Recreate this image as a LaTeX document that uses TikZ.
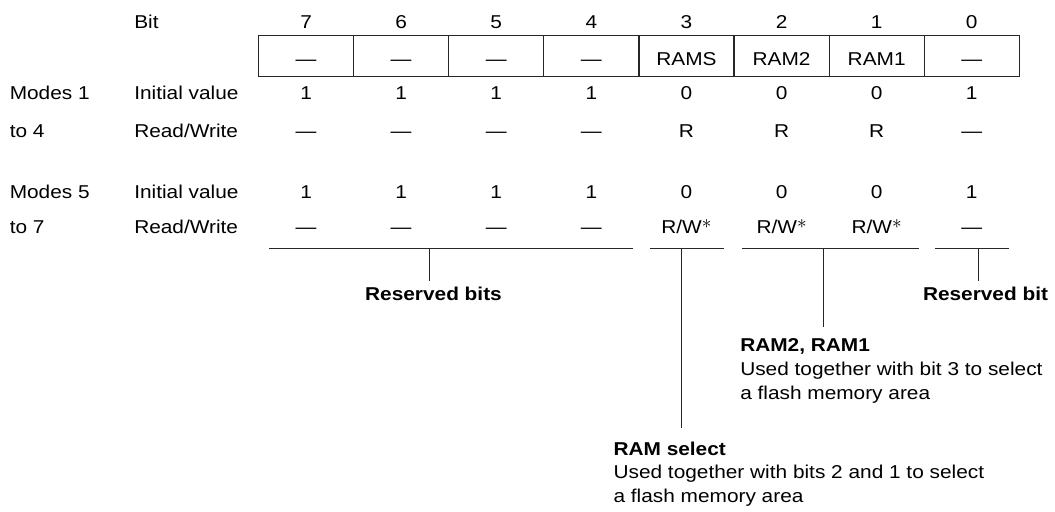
\documentclass[tikz,border=0pt]{standalone}
\usepackage{fontspec}
\setmainfont[FakeStretch=1.12]{Liberation Sans}
\definecolor{regline}{HTML}{262626}
\newcommand{\regstar}{\raisebox{0.28em}{$\ast$}}

\begin{document}
\begin{tikzpicture}[
  x=0.75pt,
  y=-0.75pt,
  every node/.style={inner sep=0pt,text=black,font=\fontsize{13.95pt}{17.6pt}\selectfont},
  cell/.style={draw=regline,line width=0.9pt,minimum width=71.33pt,minimum height=30.75pt,text height=13.5pt,text depth=0pt},
  bitval/.style={anchor=base},
  rowlabel/.style={anchor=base west},
  bracket/.style={draw=regline,line width=0.8pt},
  desctitle/.style={anchor=base west,font=\fontsize{13.95pt}{17.6pt}\selectfont\bfseries},
  desctext/.style={anchor=base west}
]
  \useasboundingbox (0,0) rectangle (1055,511);

  % row labels
  \node[rowlabel] (bitlbl) at (134,28.5) {Bit};
  \node[rowlabel] (modesa) at (9.5,99.5) {Modes 1};
  \node[rowlabel] (modesat) at (9.5,137) {to 4};
  \node[rowlabel] (ivlbla) at (134,99.5) {Initial value};
  \node[rowlabel] (rwlbla) at (134,137) {Read/Write};
  \node[rowlabel] (modesb) at (9.5,198) {Modes 5};
  \node[rowlabel] (modesbt) at (9.5,233.5) {to 7};
  \node[rowlabel] (ivlblb) at (134,198) {Initial value};
  \node[rowlabel] (rwlblb) at (134,233.5) {Read/Write};

  % bit numbers
  \node[bitval] (bit7) at (306.05,28.5) {7};
  \node[bitval] (bit6) at (401.15,28.5) {6};
  \node[bitval] (bit5) at (496.25,28.5) {5};
  \node[bitval] (bit4) at (591.35,28.5) {4};
  \node[bitval] (bit3) at (686.45,28.5) {3};
  \node[bitval] (bit2) at (781.55,28.5) {2};
  \node[bitval] (bit1) at (876.65,28.5) {1};
  \node[bitval] (bit0) at (971.75,28.5) {0};

  % register cells
  \node[cell] (cell7) at (306.05,56) {—};
  \node[cell] (cell6) at (401.15,56) {—};
  \node[cell] (cell5) at (496.25,56) {—};
  \node[cell] (cell4) at (591.35,56) {—};
  \node[cell] (cell3) at (686.45,56) {RAMS};
  \node[cell] (cell2) at (781.55,56) {RAM2};
  \node[cell] (cell1) at (876.65,56) {RAM1};
  \node[cell] (cell0) at (971.75,56) {—};

  % modes 1 to 4
  \node[bitval] (iva7) at (306.05,99.5) {1};
  \node[bitval] (iva6) at (401.15,99.5) {1};
  \node[bitval] (iva5) at (496.25,99.5) {1};
  \node[bitval] (iva4) at (591.35,99.5) {1};
  \node[bitval] (iva3) at (686.45,99.5) {0};
  \node[bitval] (iva2) at (781.55,99.5) {0};
  \node[bitval] (iva1) at (876.65,99.5) {0};
  \node[bitval] (iva0) at (971.75,99.5) {1};
  \node[bitval] (rwa7) at (306.05,137) {—};
  \node[bitval] (rwa6) at (401.15,137) {—};
  \node[bitval] (rwa5) at (496.25,137) {—};
  \node[bitval] (rwa4) at (591.35,137) {—};
  \node[bitval] (rwa3) at (686.45,137) {R};
  \node[bitval] (rwa2) at (781.55,137) {R};
  \node[bitval] (rwa1) at (876.65,137) {R};
  \node[bitval] (rwa0) at (971.75,137) {—};

  % modes 5 to 7
  \node[bitval] (ivb7) at (306.05,198) {1};
  \node[bitval] (ivb6) at (401.15,198) {1};
  \node[bitval] (ivb5) at (496.25,198) {1};
  \node[bitval] (ivb4) at (591.35,198) {1};
  \node[bitval] (ivb3) at (686.45,198) {0};
  \node[bitval] (ivb2) at (781.55,198) {0};
  \node[bitval] (ivb1) at (876.65,198) {0};
  \node[bitval] (ivb0) at (971.75,198) {1};
  \node[bitval] (rwb7) at (306.05,233.5) {—};
  \node[bitval] (rwb6) at (401.15,233.5) {—};
  \node[bitval] (rwb5) at (496.25,233.5) {—};
  \node[bitval] (rwb4) at (591.35,233.5) {—};
  \node[bitval] (rwb3) at (686.45,233.5) {R/W\regstar};
  \node[bitval] (rwb2) at (781.55,233.5) {R/W\regstar};
  \node[bitval] (rwb1) at (876.65,233.5) {R/W\regstar};
  \node[bitval] (rwb0) at (971.75,233.5) {—};

  % brackets under the bits
  \coordinate (resL) at (269,248.3);
  \coordinate (resR) at (632.5,248.3);
  \coordinate (resM) at (429.3,248.3);
  \coordinate (resE) at (429.3,280.7);
  \coordinate (selL) at (650,248.3);
  \coordinate (selR) at (724.4,248.3);
  \coordinate (selM) at (681.7,248.3);
  \coordinate (selE) at (681.7,428.3);
  \coordinate (ramL) at (741.5,248.3);
  \coordinate (ramR) at (919.3,248.3);
  \coordinate (ramM) at (823.3,248.3);
  \coordinate (ramE) at (823.3,326.7);
  \coordinate (rsvL) at (935,248.3);
  \coordinate (rsvR) at (1009.3,248.3);
  \coordinate (rsvM) at (978.3,248.3);
  \coordinate (rsvE) at (978.3,280.5);

  \draw[bracket] (resL) -- (resR);
  \draw[bracket] (resM) -- (resE);
  \draw[bracket] (selL) -- (selR);
  \draw[bracket] (selM) -- (selE);
  \draw[bracket] (ramL) -- (ramR);
  \draw[bracket] (ramM) -- (ramE);
  \draw[bracket] (rsvL) -- (rsvR);
  \draw[bracket] (rsvM) -- (rsvE);

  % descriptions
  \node[desctitle,anchor=base] (resbits) at (433.5,300.7) {Reserved bits};
  \node[desctitle,anchor=base east] (resbit) at (1048.3,300.7) {Reserved bit};
  \node[desctitle] (ramsel) at (740,351.7) {RAM2, RAM1};
  \node[desctext] (ramsela) at (740,375.5) {Used together with bit 3 to select};
  \node[desctext] (ramselb) at (740,399) {a flash memory area};
  \node[desctitle] (ramst) at (613.3,455) {RAM select};
  \node[desctext] (ramsta) at (613.3,478.5) {Used together with bits 2 and 1 to select};
  \node[desctext] (ramstb) at (613.3,502) {a flash memory area};
\end{tikzpicture}
\end{document}
